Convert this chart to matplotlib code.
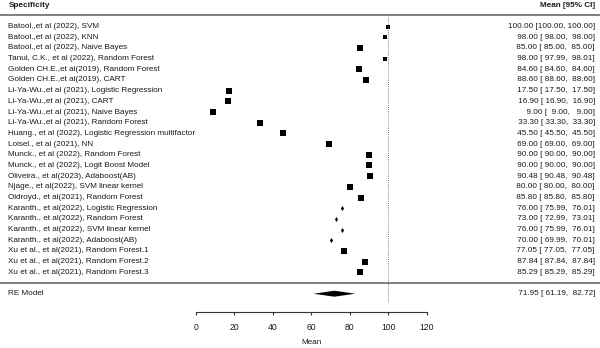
import matplotlib.pyplot as plt
import numpy as np

plt.rcParams['font.family'] = ['Liberation Sans', 'DejaVu Sans']

studies = [
    "Batool.,et al (2022), SVM",
    "Batool.,et al (2022), KNN",
    "Batool.,et al (2022), Naive Bayes",
    "Tanui, C.K., et al (2022), Random Forest",
    "Golden CH.E.,et al(2019), Random Forest",
    "Golden CH.E.,et al(2019), CART",
    "Li-Ya-Wu.,et al (2021), Logistic Regression",
    "Li-Ya-Wu.,et al (2021), CART",
    "Li-Ya-Wu.,et al (2021), Naive Bayes",
    "Li-Ya-Wu.,et al (2021), Random Forest",
    "Huang., et al (2022), Logistic Regression multifactor",
    "Loisel., et al (2021), NN",
    "Munck., et al (2022), Random Forest",
    "Munck., et al (2022), Logit Boost Model",
    "Oliveira., et al(2023), Adaboost(AB)",
    "Njage., et al(2022), SVM linear kernel",
    "Oldroyd., et al(2021), Random Forest",
    "Karanth., et al(2022), Logistic Regression",
    "Karanth., et al(2022), Random Forest",
    "Karanth., et al(2022), SVM linear kernel",
    "Karanth., et al(2022), Adaboost(AB)",
    "Xu et al., et al(2021), Random Forest.1",
    "Xu et al., et al(2021), Random Forest.2",
    "Xu et al., et al(2021), Random Forest.3",
]
means = [100.00, 98.00, 85.00, 98.00, 84.60, 88.60, 17.50, 16.90, 9.00, 33.30,
         45.50, 69.00, 90.00, 90.00, 90.48, 80.00, 85.80, 76.00, 73.00, 76.00,
         70.00, 77.05, 87.84, 85.29]
ci_low = [100.00, 98.00, 85.00, 97.99, 84.60, 88.60, 17.50, 16.90, 9.00, 33.30,
          45.50, 69.00, 90.00, 90.00, 90.48, 80.00, 85.80, 75.99, 72.99, 75.99,
          69.99, 77.05, 87.84, 85.29]
ci_high = [100.00, 98.00, 85.00, 98.01, 84.60, 88.60, 17.50, 16.90, 9.00, 33.30,
           45.50, 69.00, 90.00, 90.00, 90.48, 80.00, 85.80, 76.01, 73.01, 76.01,
           70.01, 77.05, 87.84, 85.29]
# relative study weights -> square size in pixels
box_px = [5.0, 4.8, 5.3, 4.3, 5.4, 5.8, 5.4, 5.4, 5.4, 5.4, 5.4, 5.4,
          5.8, 5.8, 5.8, 5.4, 5.8, 0, 0, 0, 0, 5.4, 5.9, 5.4]

re_mean, re_low, re_high = 71.95, 61.19, 82.72
xticks = [0, 20, 40, 60, 80, 100, 120]

def fmt_ci(m, lo, hi):
    return "%6.2f [%6.2f, %6.2f]" % (m, lo, hi)

fig = plt.figure(figsize=(6, 3.48), dpi=100)
ax = fig.add_axes([0, 0, 1, 1])
ax.set_xlim(-101.53, 209.75)
ax.set_ylim(30.08, -2.48)

txt = '#1a1a1a'
fs = 5.9
tr = ax.get_yaxis_transform()
x_left, x_right = 8.5 / 600, 595 / 600
k = len(studies)
rows = np.arange(k)

for i in range(k):
    ax.text(x_left, rows[i], studies[i], transform=tr, fontsize=fs,
            color=txt, va='center', ha='left')
    ax.text(x_right, rows[i], fmt_ci(means[i], ci_low[i], ci_high[i]),
            transform=tr, fontsize=fs, color=txt, va='center', ha='right')
    ax.plot([ci_low[i], ci_high[i]], [rows[i], rows[i]], color='black', lw=0.8)
    if box_px[i] > 0:
        ax.plot(means[i], rows[i], marker='s', color='black',
                markersize=box_px[i] * 0.72, markeredgewidth=0)
    else:
        ax.plot(means[i], rows[i], marker='d', color='black',
                markersize=2.6, markeredgewidth=0)

# headers and separators
ax.text(x_left, -1.97, "Specificity", transform=tr, fontsize=fs,
        fontweight='bold', color=txt, va='center', ha='left')
ax.text(x_right, -1.97, "Mean [95% CI]", transform=tr, fontsize=fs,
        fontweight='bold', color=txt, va='center', ha='right')
ax.axhline(-1.08, color='#7f7f7f', lw=1.4)
ax.axhline(24.0, color='#7f7f7f', lw=1.4)

# reference line
ax.plot([100, 100], [-0.9, 25.8], color='#555555', lw=0.6, ls=(0, (1, 1.5)))

# random-effects summary
ax.fill([re_low, re_mean, re_high, re_mean], [25.0, 24.72, 25.0, 25.28],
        color='black', lw=0)
ax.text(x_left, 24.98, "RE Model", transform=tr, fontsize=fs,
        color=txt, va='center', ha='left')
ax.text(x_right, 24.98, fmt_ci(re_mean, re_low, re_high), transform=tr,
        fontsize=fs, color=txt, va='center', ha='right')

# x axis drawn at the bottom of the panel
for side in ['left', 'right', 'top']:
    ax.spines[side].set_visible(False)
ax.spines['bottom'].set_position(('data', 26.74))
ax.spines['bottom'].set_bounds(0, 120)
ax.spines['bottom'].set_color('#333333')
ax.spines['bottom'].set_linewidth(0.8)
ax.set_xticks(xticks)
ax.tick_params(axis='x', direction='out', length=2.5, width=0.8,
               color='#333333', labelsize=fs + 0.3, labelcolor=txt, pad=5)
ax.set_yticks([])
ax.text(60, 29.59, "Mean", fontsize=fs, color=txt, ha='center', va='center')

fig.savefig('out.png', dpi=100)
